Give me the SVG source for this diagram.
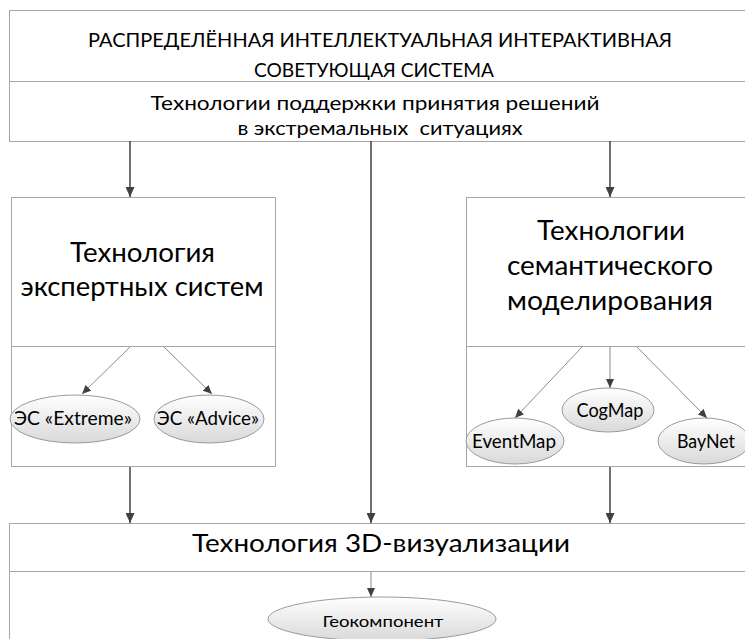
<svg xmlns="http://www.w3.org/2000/svg" width="745" height="639" viewBox="0 0 745 639">
<style>
.box{fill:#fff;stroke:#a6a6a6;stroke-width:1}
.div{stroke:#a6a6a6;stroke-width:1}
.t{font-family:Lato,"Open Sans","Liberation Sans",sans-serif;fill:#000;text-anchor:middle;white-space:pre}
.main{stroke:#404040;stroke-width:1.5;fill:none}
.thin{stroke:#8c8c8c;stroke-width:1;fill:none}
.ell{fill:url(#eg);stroke:#9a9a9a;stroke-width:1}
</style>
<defs>
<linearGradient id="eg" x1="0" y1="0" x2="0" y2="1">
<stop offset="0" stop-color="#ffffff"/>
<stop offset="1" stop-color="#d9d9d9"/>
</linearGradient>
<marker id="ah" markerUnits="userSpaceOnUse" markerWidth="10" markerHeight="9" refX="10" refY="4.5" orient="auto">
<path d="M0,0 L10,4.5 L0,9 z" fill="#404040"/>
</marker>
<marker id="ahs" markerUnits="userSpaceOnUse" markerWidth="9" markerHeight="8" refX="9" refY="4" orient="auto">
<path d="M0,0 L9,4 L0,8 z" fill="#404040"/>
</marker>
</defs>

<g id="top">
<rect class="box" x="9.5" y="10.5" width="760" height="131"/>
<line class="div" x1="9.5" y1="81.5" x2="769.5" y2="81.5"/>
<text class="t" x="380" y="47" font-size="19" textLength="584" lengthAdjust="spacingAndGlyphs">РАСПРЕДЕЛЁННАЯ ИНТЕЛЛЕКТУАЛЬНАЯ ИНТЕРАКТИВНАЯ</text>
<text class="t" x="374" y="77" font-size="19" textLength="240" lengthAdjust="spacingAndGlyphs">СОВЕТУЮЩАЯ СИСТЕМА</text>
<text class="t" x="375" y="110" font-size="19" textLength="449" lengthAdjust="spacingAndGlyphs">Технологии поддержки принятия решений</text>
<text class="t" x="380" y="135" font-size="19" textLength="285" lengthAdjust="spacingAndGlyphs">в экстремальных  ситуациях</text>
</g>

<g id="expert">
<rect class="box" x="11.5" y="197.5" width="264" height="269"/>
<line class="div" x1="11.5" y1="346.5" x2="275.5" y2="346.5"/>
<text class="t" x="142.5" y="262" font-size="26" textLength="145" lengthAdjust="spacingAndGlyphs">Технология</text>
<text class="t" x="142" y="296" font-size="26" textLength="243" lengthAdjust="spacingAndGlyphs">экспертных систем</text>
</g>

<g id="semantic">
<rect class="box" x="466.5" y="197.5" width="300" height="269"/>
<line class="div" x1="466.5" y1="346.5" x2="766.5" y2="346.5"/>
<text class="t" x="611" y="240" font-size="26" textLength="148" lengthAdjust="spacingAndGlyphs">Технологии</text>
<text class="t" x="610" y="275" font-size="26" textLength="206" lengthAdjust="spacingAndGlyphs">семантического</text>
<text class="t" x="610" y="310" font-size="26" textLength="206" lengthAdjust="spacingAndGlyphs">моделирования</text>
</g>

<g id="viz">
<rect class="box" x="9.5" y="523.5" width="760" height="130"/>
<line class="div" x1="9.5" y1="571.5" x2="769.5" y2="571.5"/>
<text class="t" x="381" y="552" font-size="25" textLength="378" lengthAdjust="spacingAndGlyphs">Технология 3D-визуализации</text>
</g>

<g id="es-extreme">
<ellipse class="ell" cx="75" cy="419" rx="65" ry="24"/>
<text class="t" x="73" y="425" font-size="18.5" textLength="118" lengthAdjust="spacingAndGlyphs">ЭС «Extreme»</text>
</g>
<g id="es-advice">
<ellipse class="ell" cx="209" cy="419" rx="55" ry="24"/>
<text class="t" x="208" y="425" font-size="18.5" textLength="102" lengthAdjust="spacingAndGlyphs">ЭС «Advice»</text>
</g>
<g id="cogmap">
<ellipse class="ell" cx="608" cy="410" rx="46" ry="22"/>
<text class="t" x="610" y="417" font-size="18.5" textLength="67" lengthAdjust="spacingAndGlyphs">CogMap</text>
</g>
<g id="eventmap">
<ellipse class="ell" cx="515" cy="441" rx="49" ry="23"/>
<text class="t" x="514" y="448" font-size="18.5" textLength="84" lengthAdjust="spacingAndGlyphs">EventMap</text>
</g>
<g id="baynet">
<ellipse class="ell" cx="704" cy="441" rx="46" ry="23"/>
<text class="t" x="706" y="448" font-size="18.5" textLength="58" lengthAdjust="spacingAndGlyphs">BayNet</text>
</g>
<g id="geo">
<ellipse class="ell" cx="382" cy="619" rx="114" ry="22"/>
<text class="t" x="383" y="627" font-size="16" textLength="121" lengthAdjust="spacingAndGlyphs">Геокомпонент</text>
</g>

<g id="connectors">
<line class="main" x1="130" y1="141" x2="130" y2="197" marker-end="url(#ah)"/>
<line class="main" x1="371" y1="141" x2="371" y2="523" marker-end="url(#ah)"/>
<line class="main" x1="610" y1="141" x2="610" y2="197" marker-end="url(#ah)"/>
<line class="main" x1="130" y1="467" x2="130" y2="523" marker-end="url(#ah)"/>
<line class="main" x1="610" y1="467" x2="610" y2="523" marker-end="url(#ah)"/>
<line class="thin" x1="130" y1="347" x2="82" y2="394" marker-end="url(#ahs)"/>
<line class="thin" x1="164" y1="347" x2="212" y2="394" marker-end="url(#ahs)"/>
<line class="thin" x1="582" y1="347" x2="515" y2="418" marker-end="url(#ahs)"/>
<line class="thin" x1="610" y1="347" x2="610" y2="388" marker-end="url(#ahs)"/>
<line class="thin" x1="637" y1="347" x2="707" y2="418" marker-end="url(#ahs)"/>
<line class="thin" x1="371" y1="572" x2="371" y2="597" marker-end="url(#ahs)"/>
</g>
</svg>
